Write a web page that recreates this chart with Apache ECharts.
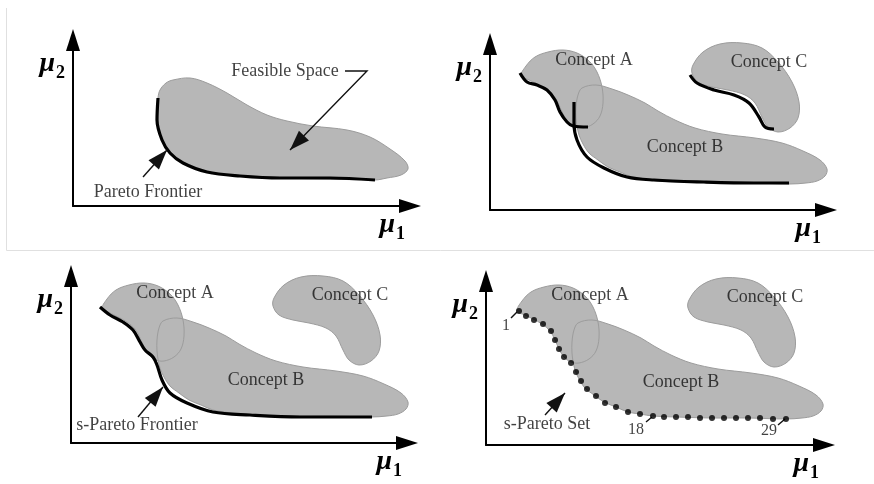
<!DOCTYPE html>
<html>
<head>
<meta charset="utf-8">
<title>Pareto frontier sketches</title>
<script src="https://cdn.jsdelivr.net/npm/echarts@6/dist/echarts.min.js"></script>
<style>
  html, body { margin: 0; padding: 0; background: #fff; }
  #chart { width: 874px; height: 484px; }
</style>
</head>
<body>
<div id="chart"></div>
<script>
// outlines and curves in axis units [mu1, mu2]
var feasibleSpace = [[85,108],[87,116],[93,123],[100,126],[117,128],[134,123],[154,113],[174,101],[194,91],[214,85],[240,80],[274,76],[297,69],[317,57],[332,45],[335,37],[328,31],[314,28],[302,26],[257,27],[207,28],[167,30],[134,34],[110,43],[97,53],[89,66],[84,86]];
var conceptA = [[31,134],[36,144],[45,153],[58,158],[73,160],[87,157],[99,149],[107,138],[112,123],[113,107],[110,94],[103,86],[93,82],[85,83],[78,88],[73,96],[69,105],[64,114],[56,121],[47,126],[39,130]];
var conceptB = [[92,122],[88,115],[86,103],[86,92],[87,84],[89,75],[93,66],[99,57],[108,50],[118,43],[130,38],[142,33],[154,31],[167,29],[190,28],[226,27],[262,27],[300,26],[316,27],[327,29],[335,34],[337,41],[330,50],[313,59],[292,67],[265,72],[232,76],[205,82],[185,90],[168,99],[155,107],[138,115],[122,121],[106,125]];
var conceptC = [[203,145],[213,158],[230,166],[252,167],[272,162],[288,148],[302,128],[309,108],[308,92],[300,82],[288,78],[278,83],[272,93],[265,107],[255,115],[238,120],[222,123],[208,128],[202,137]];

var paretoFrontier = [[85,108],[84,86],[89,66],[97,53],[110,43],[134,34],[167,30],[207,28],[257,28],[302,26]];
var frontierA = [[30,137],[37,128],[47,125],[57,120],[65,110],[70,98],[77,88],[83,84],[98,83]];
var frontierB = [[84,108],[84,87],[87,70],[97,53],[114,42],[137,33],[164,30],[214,28],[264,27],[299,27]];
var frontierC = [[200,135],[207,127],[224,120],[244,115],[259,107],[269,93],[275,83],[284,81]];
var sParetoFrontier = [[29,136],[39,128],[52,121],[62,113],[69,101],[74,93],[82,86],[86,78],[91,63],[99,50],[116,40],[142,31],[179,28],[229,26],[301,26]];
var sParetoSet = [[33,134],[40,129],[48,125],[57,121],[65,114],[69,105],[73,96],[78,88],[85,82],[90,73],[95,64],[101,56],[110,49],[119,42],[130,38],[142,33],[154,31],[167,29],[178,28],[190,28],[202,28],[214,27],[226,27],[238,27],[250,27],[262,27],[274,27],[287,26],[300,26]];
var setNumbers = ['1', '18', '29'];
var conceptNames = ['Concept A', 'Concept B', 'Concept C'];

var chart = echarts.init(document.getElementById('chart'));

var grids = [
  { left: 73, top: 40, width: 337, height: 166 },
  { left: 490, top: 44, width: 336, height: 166 },
  { left: 71, top: 276, width: 336, height: 167 },
  { left: 486, top: 281, width: 338, height: 164 }
];

var serif = 'Liberation Serif, Times New Roman, serif';
var muRich = {
  mu: { fontFamily: serif, fontStyle: 'italic', fontWeight: 'bold', fontSize: 28, color: '#000', padding: [0, 0, 4, 0] },
  sub: { fontFamily: serif, fontWeight: 'bold', fontSize: 18, color: '#000', verticalAlign: 'bottom', padding: [0, 0, 0, 1] }
};

function axisLine() {
  return { show: true, symbol: ['none', 'triangle'], symbolSize: [14, 22], lineStyle: { color: '#000', width: 2 } };
}

function blobs(i, shapes, outline) {
  return {
    type: 'custom', xAxisIndex: i, yAxisIndex: i, silent: true, z: outline ? 3 : 2,
    data: shapes.map(function (s, k) { return [k]; }),
    renderItem: function (params, api) {
      var pts = shapes[params.dataIndex].map(function (p) { return api.coord(p); });
      return {
        type: 'polygon',
        shape: { points: pts, smooth: 0.35 },
        style: outline ? { fill: null, stroke: '#9c9c9c', lineWidth: 1 } : { fill: '#b7b7b7' }
      };
    }
  };
}

function curve(i, pts) {
  return {
    type: 'line', xAxisIndex: i, yAxisIndex: i, silent: true, z: 5,
    data: pts, showSymbol: false, smooth: 0.35,
    lineStyle: { color: '#000', width: 3.2 }
  };
}

function texts(i, items, size) {
  return {
    type: 'scatter', xAxisIndex: i, yAxisIndex: i, silent: true, z: 7,
    symbolSize: 1, itemStyle: { color: 'rgba(0,0,0,0)' },
    label: { show: true, position: 'inside', formatter: '{b}', fontFamily: serif, fontSize: size || 18, color: '#111' },
    data: items.map(function (t) { return { name: t[0], value: t[1] }; })
  };
}

function arrows(i, list) {
  return {
    type: 'custom', xAxisIndex: i, yAxisIndex: i, silent: true, z: 6,
    data: list.map(function (a, k) { return [k]; }),
    renderItem: function (params, api) {
      var a = list[params.dataIndex];
      var pts = a.path.map(function (p) { return api.coord(p); });
      var kids = [{ type: 'polyline', shape: { points: pts }, style: { stroke: '#111', lineWidth: 1.4, fill: null } }];
      if (a.head) {
        var p1 = pts[pts.length - 2], p2 = pts[pts.length - 1];
        var ang = Math.atan2(p2[1] - p1[1], p2[0] - p1[0]);
        var L = 20, W = 7;
        var bx = p2[0] - L * Math.cos(ang), by = p2[1] - L * Math.sin(ang);
        kids.push({
          type: 'polygon',
          shape: { points: [p2, [bx - W * Math.sin(ang), by + W * Math.cos(ang)], [bx + W * Math.sin(ang), by - W * Math.cos(ang)]] },
          style: { fill: '#111' }
        });
      }
      return { type: 'group', children: kids };
    }
  };
}

var conceptLabels = [[conceptNames[0], [104, 150]], [conceptNames[1], [195, 63]], [conceptNames[2], [279, 148]]];
var concepts = [conceptA, conceptB, conceptC];

var series = [
  // top left
  blobs(0, [feasibleSpace], false),
  blobs(0, [feasibleSpace], true),
  curve(0, paretoFrontier),
  texts(0, [['Feasible Space', [212, 135]], ['Pareto Frontier', [75, 14]]]),
  arrows(0, [{ path: [[272, 135], [294, 135], [217, 56]], head: true }, { path: [[70, 29], [94, 56]], head: true }]),
  // top right
  blobs(1, concepts, false),
  blobs(1, concepts, true),
  curve(1, frontierA),
  curve(1, frontierB),
  curve(1, frontierC),
  texts(1, conceptLabels),
  // bottom left
  blobs(2, concepts, false),
  blobs(2, concepts, true),
  curve(2, sParetoFrontier),
  texts(2, conceptLabels.concat([['s-Pareto Frontier', [66, 18]]])),
  arrows(2, [{ path: [[67, 26], [92, 56]], head: true }]),
  // bottom right
  blobs(3, concepts, false),
  blobs(3, concepts, true),
  {
    type: 'scatter', xAxisIndex: 3, yAxisIndex: 3, silent: true, z: 6,
    symbolSize: 6, itemStyle: { color: '#000' }, data: sParetoSet
  },
  texts(3, conceptLabels.concat([['s-Pareto Set', [61, 21]]])),
  texts(3, [[setNumbers[0], [20, 119]], [setNumbers[1], [150, 15]], [setNumbers[2], [283, 14]]], 16),
  arrows(3, [
    { path: [[59, 30], [79, 52]], head: true },
    { path: [[25, 127], [31, 133]] },
    { path: [[160, 23], [166, 28]] },
    { path: [[292, 20], [299, 26]] }
  ])
];

var option = {
  animation: false,
  backgroundColor: '#fff',
  graphic: [{
    type: 'polyline', silent: true,
    shape: { points: [[6.5, 8], [6.5, 250.5], [874, 250.5]] },
    style: { stroke: '#e0e0e0', lineWidth: 1, fill: null }
  }],
  grid: grids.map(function (g) {
    return { left: g.left, top: g.top, width: g.width, height: g.height, outerBoundsMode: 'none' };
  }),
  xAxis: grids.map(function (g, i) {
    return {
      gridIndex: i, type: 'value', min: 0, max: g.width,
      axisLine: axisLine(), axisTick: { show: false }, axisLabel: { show: false }, splitLine: { show: false },
      name: '{mu|μ}{sub|1}', nameLocation: 'end', nameGap: -5, nameMoveOverlap: false,
      nameTextStyle: { align: 'right', verticalAlign: 'top', padding: [5, 0, 0, 0], rich: muRich }
    };
  }),
  yAxis: grids.map(function (g, i) {
    return {
      gridIndex: i, type: 'value', min: 0, max: g.height,
      axisLine: axisLine(), axisTick: { show: false }, axisLabel: { show: false }, splitLine: { show: false },
      name: '{mu|μ}{sub|2}', nameLocation: 'end', nameGap: -26, nameMoveOverlap: false,
      nameTextStyle: { align: 'right', verticalAlign: 'middle', padding: [0, 8, 0, 0], rich: muRich }
    };
  }),
  series: series
};

chart.setOption(option);
</script>
</body>
</html>
